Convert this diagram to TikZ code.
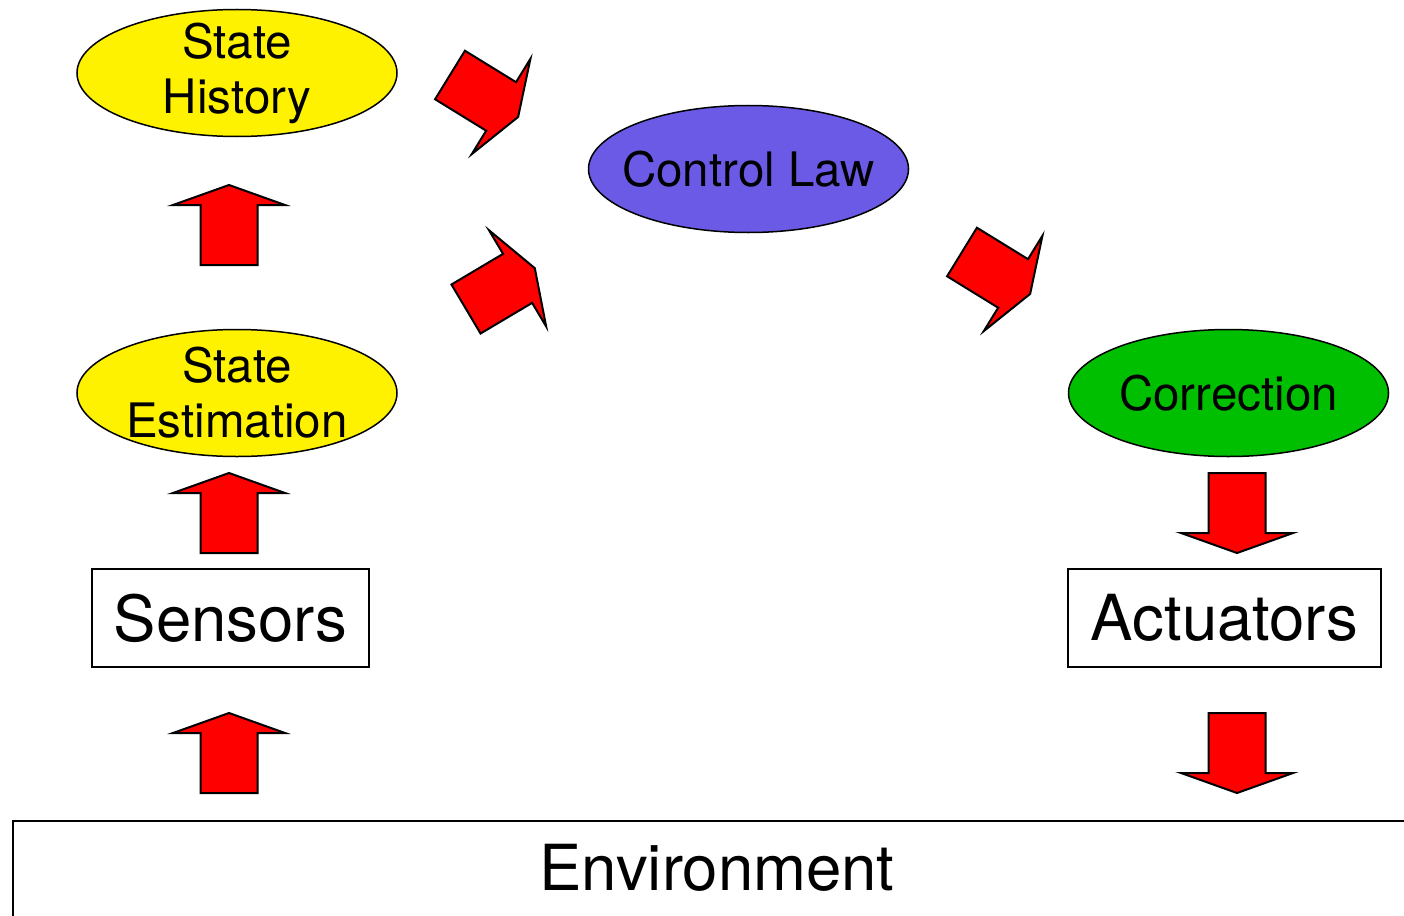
\documentclass[tikz,border=0pt]{standalone}
\usepackage{fontspec}
\setmainfont{TeX Gyre Heros}
\usetikzlibrary{shapes.geometric}
\definecolor{lawblue}{HTML}{6B5AE6}
\definecolor{corrgreen}{HTML}{00BF00}
\definecolor{arrowred}{HTML}{FF0000}
\tikzset{
  blob/.style={ellipse, draw, line width=1.5pt, minimum width=320pt,
    minimum height=127pt, inner sep=0pt},
  blobtext/.style={align=center, inner sep=0pt,
    font=\fontsize{47.5}{55}\selectfont},
  device/.style={rectangle, draw, line width=2pt, minimum height=98pt,
    inner sep=0pt, font=\fontsize{63.5}{70}\selectfont},
  % block arrow pointing along +x, tail centred on the origin
  blockarrow/.pic={
    \filldraw[fill=arrowred, line width=2pt, line join=miter]
      (0,-28.5) -- (60,-28.5) -- (60,-56) -- (80,0) -- (60,56)
      -- (60,28.5) -- (0,28.5) -- cycle;
  }
}
\begin{document}
\begin{tikzpicture}[x=1pt, y=-1pt]
  \useasboundingbox (0,0) rectangle (1404,915);
  \clip (0,0) rectangle (1404,915);

  % estimation and planning stages
  \node[blob, fill=yellow, label={[blobtext]center:State\\History}]
        (hist) at (237,73) {};
  \node[blob, fill=yellow, label={[blobtext]center:State\\Estimation}]
        (est) at (237,393) {};
  \node[blob, fill=lawblue, label={[blobtext]center:Control Law}]
        (law) at (748.5,169) {};
  \node[blob, fill=corrgreen, label={[blobtext]center:Correction}]
        (corr) at (1228.5,393) {};

  % hardware
  \node[device, minimum width=277pt] (sens) at (230.5,618) {Sensors};
  \node[device, minimum width=313pt] (act) at (1224.5,618) {Actuators};

  % environment, running off the page edge
  \node[device, minimum width=1418pt, minimum height=120pt,
        anchor=north west] (envbox) at (12,820) {};
  \node[font=\fontsize{63.5}{70}\selectfont, inner sep=0pt] (envtext)
        at (717,868) {Environment};

  % flow arrows
  \pic[rotate=90]    (a1) at (229,793) {blockarrow};
  \pic[rotate=90]    (a2) at (229,553) {blockarrow};
  \pic[rotate=90]    (a3) at (229,265) {blockarrow};
  \pic[rotate=-31.6] (a4) at (450,75)  {blockarrow};
  \pic[rotate=30.7]  (a5) at (466,309) {blockarrow};
  \pic[rotate=-31.6] (a6) at (962,252) {blockarrow};
  \pic[rotate=-90]   (a7) at (1237,473) {blockarrow};
  \pic[rotate=-90]   (a8) at (1237,713) {blockarrow};
\end{tikzpicture}
\end{document}
